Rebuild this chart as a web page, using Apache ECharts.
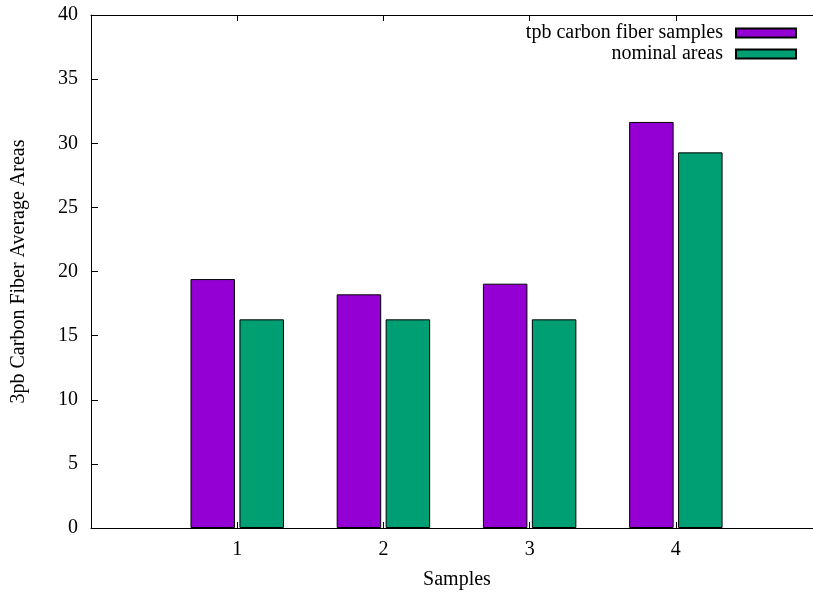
<!DOCTYPE html>
<html>
<head>
<meta charset="utf-8">
<script src="https://cdn.jsdelivr.net/npm/echarts@6/dist/echarts.min.js"></script>
<style>html,body{margin:0;padding:0;background:#fff;overflow:hidden;}#c{width:813px;height:597px;}</style>
</head>
<body>
<div id="c"></div>
<script>
const samples = [1, 2, 3, 4];
const tpbValues = [19.41, 18.22, 19.05, 31.66];
const nominalValues = [16.27, 16.27, 16.27, 29.29];
const seriesNames = ['tpb carbon fiber samples', 'nominal areas'];
const yTicks = [0, 5, 10, 15, 20, 25, 30, 35, 40];

const font = 'Liberation Serif';
const fs = 20;
const chart = echarts.init(document.getElementById('c'));
const pair = (xs, ys) => xs.map((x, i) => [x, ys[i]]);
const xLabelFmt = v => (samples.indexOf(v) >= 0 ? String(v) : '');

chart.setOption({
  animation: false,
  backgroundColor: '#fff',
  textStyle: { fontFamily: font },
  grid: { left: 91, right: 0, top: 15, bottom: 69, show: false },
  legend: {
    orient: 'vertical', right: 16, top: 23, align: 'right', padding: 0,
    itemWidth: 60, itemHeight: 9, itemGap: 1,
    icon: 'rect',
    textStyle: { fontFamily: font, fontSize: fs, color: '#000', lineHeight: 20, padding: [0, 8, 0, 0] },
    data: seriesNames
  },
  xAxis: [
    {
      type: 'value', min: 0, max: 4.938, interval: 1, position: 'bottom',
      name: 'Samples', nameLocation: 'middle', nameGap: 42,
      nameTextStyle: { fontFamily: font, fontSize: fs, color: '#000', padding: [0, 0, 0, 10] },
      axisLine: { show: true, onZero: false, lineStyle: { color: '#000', width: 1 } },
      axisTick: { show: true, inside: true, length: 6, lineStyle: { color: '#000' }, customValues: samples },
      axisLabel: { fontFamily: font, fontSize: fs, color: '#000', margin: 12, customValues: samples, formatter: xLabelFmt },
      splitLine: { show: false }
    },
    {
      type: 'value', min: 0, max: 4.938, interval: 1, position: 'top',
      axisLine: { show: true, onZero: false, lineStyle: { color: '#000', width: 1 } },
      axisTick: { show: true, inside: true, length: 6, lineStyle: { color: '#000' }, customValues: samples },
      axisLabel: { show: false },
      splitLine: { show: false }
    }
  ],
  yAxis: [
    {
      type: 'value', min: 0, max: 40, interval: 5, position: 'left',
      name: '3pb Carbon Fiber Average Areas', nameLocation: 'middle', nameGap: 62, nameRotate: 90,
      nameTextStyle: { fontFamily: font, fontSize: fs, color: '#000' },
      axisLine: { show: true, onZero: false, lineStyle: { color: '#000', width: 1 } },
      axisTick: { show: true, inside: true, length: 7, lineStyle: { color: '#000' } },
      axisLabel: { fontFamily: font, fontSize: fs, color: '#000', margin: 13 },
      splitLine: { show: false }
    }
  ],
  series: [
    {
      name: seriesNames[0], type: 'bar', xAxisIndex: 0, yAxisIndex: 0,
      barWidth: 44.5, barGap: '10%',
      itemStyle: { color: '#9400D3', borderColor: '#000', borderWidth: 1 },
      data: pair(samples, tpbValues)
    },
    {
      name: seriesNames[1], type: 'bar', xAxisIndex: 0, yAxisIndex: 0,
      barWidth: 44.5, barGap: '10%',
      itemStyle: { color: '#009E73', borderColor: '#000', borderWidth: 1 },
      data: pair(samples, nominalValues)
    }
  ]
});
</script>
</body>
</html>
